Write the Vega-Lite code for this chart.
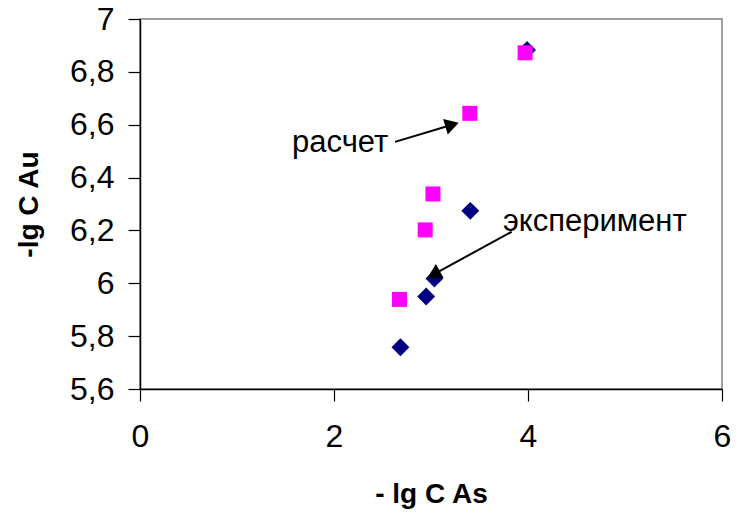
{
  "$schema": "https://vega.github.io/schema/vega-lite/v6.json",
  "width": 582,
  "height": 370,
  "autosize": {"type": "none"},
  "padding": {"left": 140, "top": 19, "right": 19, "bottom": 131},
  "background": "white",
  "config": {
    "font": "Liberation Sans",
    "view": {"stroke": "#808080", "strokeWidth": 1.5},
    "axis": {
      "grid": false,
      "domainColor": "#000000",
      "domainWidth": 1.5,
      "tickColor": "#000000",
      "tickSize": 12,
      "tickWidth": 1.2,
      "labelFont": "Liberation Sans",
      "labelFontSize": 32,
      "labelColor": "#000000",
      "labelFlush": false,
      "titleFont": "Liberation Sans",
      "titleFontSize": 28,
      "titleFontWeight": "bold",
      "titleColor": "#000000"
    }
  },
  "datasets": {
    "points": [
      {"series": "эксперимент", "x": 2.685, "y": 5.758},
      {"series": "эксперимент", "x": 2.95, "y": 5.95},
      {"series": "эксперимент", "x": 3.035, "y": 6.018},
      {"series": "эксперимент", "x": 3.405, "y": 6.274},
      {"series": "эксперимент", "x": 3.99, "y": 6.883},
      {"series": "расчет", "x": 2.675, "y": 5.939},
      {"series": "расчет", "x": 2.94, "y": 6.202},
      {"series": "расчет", "x": 3.02, "y": 6.338},
      {"series": "расчет", "x": 3.4, "y": 6.643},
      {"series": "расчет", "x": 3.97, "y": 6.872}
    ],
    "arrows": [
      {"label": "расчет", "x1": 2.629, "y1": 6.535, "x2": 3.218, "y2": 6.6, "angle": -16.8, "tx": 1.567, "ty": 6.531},
      {"label": "эксперимент", "x1": 3.832, "y1": 6.195, "x2": 3.027, "y2": 6.034, "angle": 151.3, "tx": 3.742, "ty": 6.232}
    ]
  },
  "layer": [
    {
      "data": {"name": "points"},
      "transform": [{"filter": "datum.series === 'эксперимент'"}],
      "mark": {"type": "point", "shape": "diamond", "filled": true, "size": 320, "color": "#000080", "opacity": 1},
      "encoding": {
        "x": {"field": "x", "type": "quantitative", "scale": {"domain": [0, 6]}, "axis": {"values": [0, 2, 4, 6], "format": "d", "title": "- lg C As", "labelPadding": 20, "titlePadding": 28}},
        "y": {"field": "y", "type": "quantitative", "scale": {"domain": [5.6, 7], "zero": false}, "axis": {"values": [5.6, 5.8, 6, 6.2, 6.4, 6.6, 6.8, 7], "labelExpr": "replace(format(datum.value, '.1~f'), '.', ',')", "title": "-lg C Au", "labelPadding": 14, "titlePadding": 26}}
      }
    },
    {
      "data": {"name": "points"},
      "transform": [{"filter": "datum.series === 'расчет'"}],
      "mark": {"type": "point", "shape": "square", "filled": true, "size": 225, "color": "#FF00FF", "opacity": 1},
      "encoding": {
        "x": {"field": "x", "type": "quantitative"},
        "y": {"field": "y", "type": "quantitative"}
      }
    },
    {
      "data": {"name": "arrows"},
      "mark": {"type": "rule", "color": "#000000", "strokeWidth": 2},
      "encoding": {
        "x": {"field": "x1", "type": "quantitative"},
        "y": {"field": "y1", "type": "quantitative"},
        "x2": {"field": "x2"},
        "y2": {"field": "y2"}
      }
    },
    {
      "data": {"name": "arrows"},
      "mark": {"type": "point", "shape": "triangle-right", "filled": true, "size": 260, "color": "#000000", "opacity": 1},
      "encoding": {
        "x": {"field": "x2", "type": "quantitative"},
        "y": {"field": "y2", "type": "quantitative"},
        "angle": {"field": "angle", "type": "quantitative", "scale": null}
      }
    },
    {
      "data": {"name": "arrows"},
      "mark": {"type": "text", "align": "left", "baseline": "middle", "fontSize": 31, "font": "Liberation Sans", "color": "#000000"},
      "encoding": {
        "x": {"field": "tx", "type": "quantitative"},
        "y": {"field": "ty", "type": "quantitative"},
        "text": {"field": "label"}
      }
    }
  ]
}
